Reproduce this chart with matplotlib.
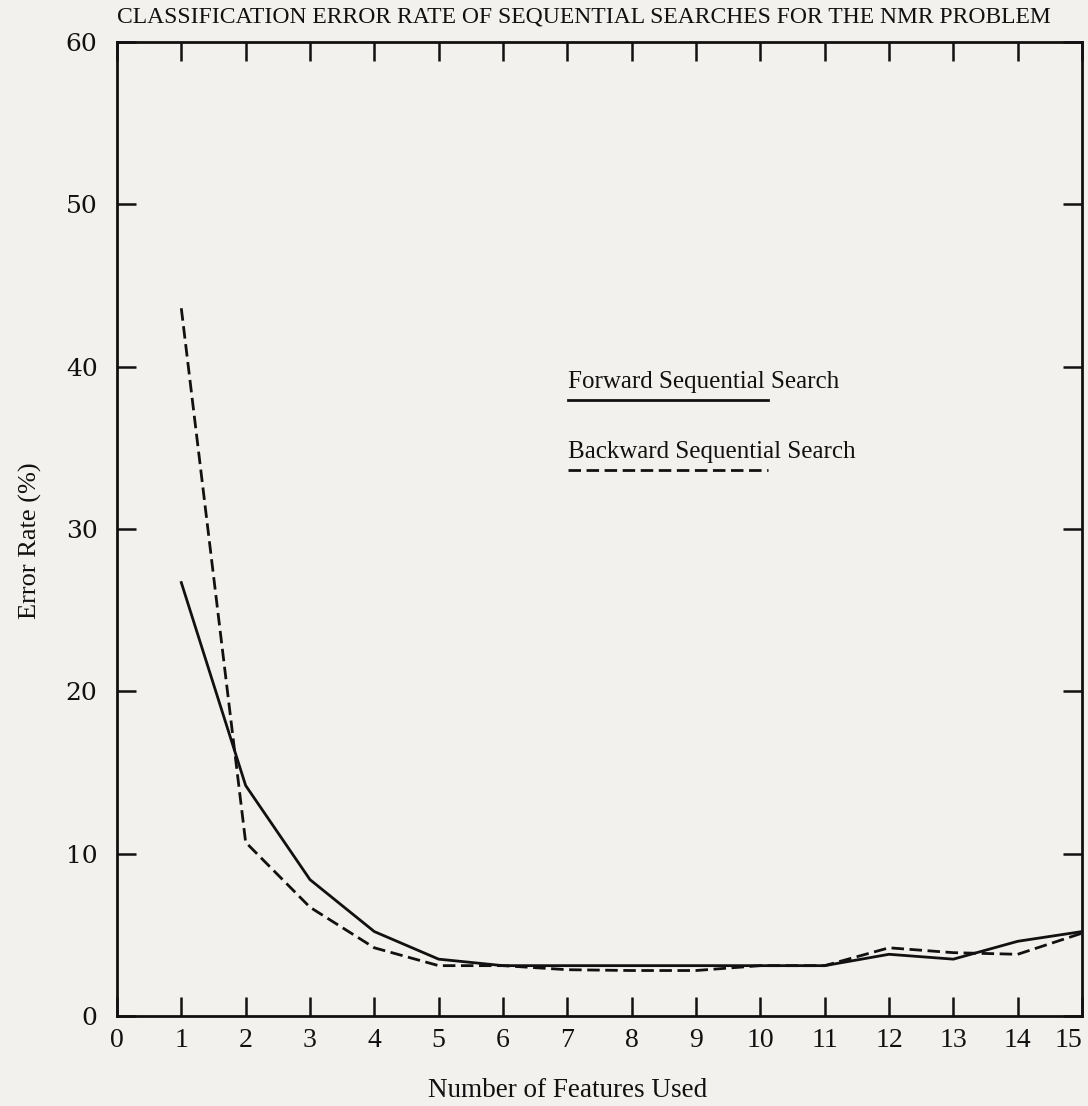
"""
Classification error rate of sequential feature searches (NMR problem).
"""

import matplotlib
matplotlib.use("Agg")
import matplotlib.pyplot as plt
from matplotlib.lines import Line2D

# Data
n_features = [1, 2, 3, 4, 5, 6, 7, 8, 9, 10, 11, 12, 13, 14, 15]
forward_err = [26.7, 14.2, 8.4, 5.2, 3.5, 3.1, 3.1, 3.1, 3.1, 3.1, 3.1, 3.8, 3.5, 4.6, 5.2]
backward_err = [43.6, 10.7, 6.7, 4.2, 3.1, 3.1, 2.85, 2.8, 2.8, 3.1, 3.1, 4.2, 3.9, 3.8, 5.1]

x_ticks = list(range(0, 16))
y_ticks = [0, 10, 20, 30, 40, 50, 60]

BG = "#f2f1ed"
INK = "#111111"
DASH = (0, (4.5, 2))

fig = plt.figure(figsize=(10.88, 11.06), dpi=100, facecolor=BG)
ax = fig.add_axes([0.1075, 0.0814, 0.887, 0.8806])
ax.set_facecolor(BG)

ax.plot(n_features, forward_err, color=INK, lw=2.0)
ax.plot(n_features, backward_err, color=INK, lw=2.0, linestyle=DASH)

ax.set_xlim(0, 15)
ax.set_ylim(0, 60)
ax.set_xticks(x_ticks)
ax.set_yticks(y_ticks)
ax.set_xticklabels([str(v) for v in x_ticks], family="Liberation Serif", fontsize=20)
ax.set_yticklabels([str(v) for v in y_ticks], family="DejaVu Serif", fontsize=18)
# last label sits inside the frame, as in the original
ax.get_xticklabels()[-1].set_horizontalalignment("right")

ax.tick_params(axis="x", direction="in", length=14, width=1.8, top=True, pad=9, colors=INK)
ax.tick_params(axis="y", direction="in", length=14, width=1.8, right=True, pad=14, colors=INK)
for sp in ax.spines.values():
    sp.set_linewidth(2.0)
    sp.set_color(INK)

ax.set_xlabel("Number of Features Used", family="Liberation Serif", fontsize=19.5, color=INK)
ax.xaxis.set_label_coords(0.467, -0.064)
ax.set_ylabel("Error Rate (%)", family="Liberation Serif", fontsize=19, color=INK)
ax.yaxis.set_label_coords(-0.078, 0.488)
fig.text(0.537, 0.994, "CLASSIFICATION ERROR RATE OF SEQUENTIAL SEARCHES FOR THE NMR PROBLEM",
         ha="center", va="top", family="Liberation Serif", fontsize=17, color=INK)

# Hand-drawn style legend: label above a sample line
ax.text(0.467, 0.651, "Forward Sequential Search", transform=ax.transAxes,
        family="Liberation Serif", fontsize=18, va="center", color=INK)
ax.add_line(Line2D([0.467, 0.675], [0.632, 0.632], transform=ax.transAxes,
                   color=INK, lw=2.0))
ax.text(0.467, 0.579, "Backward Sequential Search", transform=ax.transAxes,
        family="Liberation Serif", fontsize=18, va="center", color=INK)
ax.add_line(Line2D([0.467, 0.675], [0.561, 0.561], transform=ax.transAxes,
                   color=INK, lw=2.0, linestyle=DASH))

fig.savefig("out.png", dpi=100, facecolor=BG)
plt.close(fig)
